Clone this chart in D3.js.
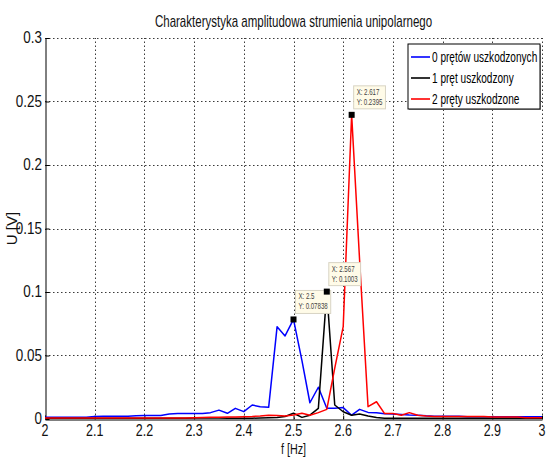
<!DOCTYPE html>
<html>
<head>
<meta charset="utf-8">
<script src="https://d3js.org/d3.v7.min.js"></script>
<style>
  body { margin: 0; background: #fff; }
  svg { display: block; font-family: "Liberation Sans", Arial, sans-serif; }
</style>
</head>
<body>
<div id="chart"></div>
<script>
// frequency grid [Hz]
const freqs = [2.000, 2.017, 2.033, 2.050, 2.067, 2.083, 2.100, 2.117, 2.133, 2.150,
  2.167, 2.183, 2.200, 2.217, 2.233, 2.250, 2.267, 2.283, 2.300, 2.317,
  2.333, 2.350, 2.367, 2.383, 2.400, 2.417, 2.433, 2.450, 2.467, 2.483,
  2.500, 2.517, 2.533, 2.550, 2.567, 2.583, 2.600, 2.617, 2.633, 2.650,
  2.667, 2.683, 2.700, 2.717, 2.733, 2.750, 2.767, 2.783, 2.800, 2.817,
  2.833, 2.850, 2.867, 2.883, 2.900, 2.917, 2.933, 2.950, 2.967, 2.983, 3.000];

// amplitude [V], 0 broken bars
const ampHealthy = [0.0013, 0.0013, 0.0013, 0.0013, 0.0013, 0.0013, 0.0019, 0.0021, 0.0021, 0.0021,
  0.0021, 0.0026, 0.0028, 0.0028, 0.0028, 0.0040, 0.0043, 0.0043, 0.0043, 0.0043,
  0.0050, 0.0070, 0.0045, 0.0084, 0.0058, 0.0110, 0.0097, 0.0092, 0.0727, 0.0654,
  0.07838, 0.0460, 0.0128, 0.0250, 0.0084, 0.0084, 0.0090, 0.0030, 0.0076, 0.0052,
  0.0050, 0.0042, 0.0040, 0.0036, 0.0032, 0.0030, 0.0025, 0.0022, 0.0022, 0.0022,
  0.0022, 0.0018, 0.0018, 0.0018, 0.0018, 0.0018, 0.0018, 0.0018, 0.0018, 0.0018, 0.0018];

// 1 broken bar
const ampOneBar = [0.0005, 0.0005, 0.0005, 0.0005, 0.0005, 0.0005, 0.0005, 0.0005, 0.0005, 0.0005,
  0.0005, 0.0005, 0.0005, 0.0005, 0.0005, 0.0005, 0.0005, 0.0005, 0.0008, 0.0008,
  0.0008, 0.0008, 0.0006, 0.0006, 0.0006, 0.0006, 0.0008, 0.0010, 0.0012, 0.0020,
  0.0045, 0.0013, 0.0030, 0.0084, 0.1003, 0.0110, 0.0057, 0.0030, 0.0040, 0.0024,
  0.0012, 0.0006, 0.0005, 0.0005, 0.0005, 0.0005, 0.0005, 0.0005, 0.0005, 0.0005,
  0.0005, 0.0005, 0.0005, 0.0005, 0.0005, 0.0005, 0.0005, 0.0005, 0.0005, 0.0005, 0.0005];

// 2 broken bars
const ampTwoBars = [0.0008, 0.0008, 0.0008, 0.0008, 0.0008, 0.0008, 0.0008, 0.0008, 0.0008, 0.0008,
  0.0008, 0.0008, 0.0008, 0.0008, 0.0008, 0.0008, 0.0008, 0.0008, 0.0010, 0.0012,
  0.0013, 0.0014, 0.0015, 0.0016, 0.0018, 0.0020, 0.0024, 0.0030, 0.0028, 0.0024,
  0.0032, 0.0045, 0.0030, 0.0050, 0.0076, 0.0400, 0.0727, 0.2395, 0.1250, 0.0097,
  0.0136, 0.0044, 0.0044, 0.0030, 0.0050, 0.0030, 0.0024, 0.0020, 0.0020, 0.0020,
  0.0020, 0.0020, 0.0020, 0.0020, 0.0015, 0.0015, 0.0015, 0.0015, 0.0010, 0.0010, 0.0010];

const seriesNames = ['0 prętów uszkodzonych', '1 pręt uszkodzony', '2 pręty uszkodzone'];
const seriesColors = ['#0000ff', '#000000', '#ff0000'];

// data cursors
const tipX = [2.5, 2.567, 2.617];
const tipY = [0.07838, 0.1003, 0.2395];
const tipLabels = [['X: 2.5', 'Y: 0.07838'], ['X: 2.567', 'Y: 0.1003'], ['X: 2.617', 'Y: 0.2395']];

const xTicks = [2, 2.1, 2.2, 2.3, 2.4, 2.5, 2.6, 2.7, 2.8, 2.9, 3];
const yTicks = [0, 0.05, 0.1, 0.15, 0.2, 0.25, 0.3];

const width = 548, height = 457;
const margin = { top: 38, right: 6, bottom: 38, left: 45 };
const SX = 0.72; // horizontal squeeze for text

const svg = d3.select('#chart').append('svg')
  .attr('width', width)
  .attr('height', height);

const x = d3.scaleLinear().domain([2, 3]).range([margin.left, width - margin.right]);
const y = d3.scaleLinear().domain([0, 0.3]).range([height - margin.bottom, margin.top]);

function squeezed(parent, px, py, txt, size, anchor, sx) {
  return parent.append('text')
    .attr('transform', `translate(${px},${py}) scale(${sx || SX},1)`)
    .attr('text-anchor', anchor || 'middle')
    .style('font-size', size + 'px')
    .text(txt);
}

// grid
const grid = svg.append('g').attr('stroke', '#3a3a3a').attr('stroke-width', 1)
  .attr('stroke-dasharray', '1.5,2.5').attr('fill', 'none');
grid.selectAll('.gx').data(xTicks.slice(1)).enter().append('line')
  .attr('x1', d => Math.round(x(d)) + 0.5).attr('x2', d => Math.round(x(d)) + 0.5)
  .attr('y1', y(0)).attr('y2', y(0.3));
grid.selectAll('.gy').data(yTicks.slice(1)).enter().append('line')
  .attr('x1', x(2)).attr('x2', x(3))
  .attr('y1', d => Math.round(y(d)) + 0.5).attr('y2', d => Math.round(y(d)) + 0.5);

// axes
const xAxis = d3.axisBottom(x).tickValues(xTicks).tickSizeInner(-4).tickSizeOuter(0)
  .tickFormat(() => '');
const yAxis = d3.axisLeft(y).tickValues(yTicks).tickSizeInner(-4).tickSizeOuter(0)
  .tickFormat(() => '');
svg.append('g').attr('transform', `translate(0,${Math.round(y(0)) + 0.5})`).call(xAxis)
  .call(g => g.select('.domain').attr('stroke', '#000'));
svg.append('g').attr('transform', `translate(${Math.round(x(2)) + 0.5},0)`).call(yAxis)
  .call(g => g.select('.domain').attr('stroke', '#000'));

const labels = svg.append('g').attr('fill', '#111');
xTicks.forEach(t => squeezed(labels, x(t), y(0) + 17, d3.format('')(t), 16, 'middle', 0.78));
yTicks.forEach(t => squeezed(labels, x(2) - 3, y(t) + 5, d3.format('')(t), 16, 'end', 0.84));

// lines
const line = d3.line().x(d => x(d[0])).y(d => y(d[1]));
[ampHealthy, ampOneBar, ampTwoBars].forEach((vals, i) => {
  svg.append('path')
    .datum(freqs.map((f, j) => [f, vals[j]]))
    .attr('fill', 'none')
    .attr('stroke', seriesColors[i])
    .attr('stroke-width', 1.5)
    .attr('stroke-linejoin', 'round')
    .attr('d', line);
});

// data cursors
tipX.forEach((tx, i) => {
  const px = x(tx), py = y(tipY[i]);
  svg.append('rect')
    .attr('x', px - 3).attr('y', py - 3).attr('width', 6).attr('height', 6)
    .attr('fill', '#000');
  const g = svg.append('g').attr('transform', `translate(${px + 2},${py - 29})`);
  const box = g.append('rect')
    .attr('height', 23)
    .attr('fill', '#fffbe8').attr('stroke', '#d8d4c4');
  const t1 = squeezed(g, 3, 9, tipLabels[i][0], 8.5, 'start').attr('fill', '#444');
  const t2 = squeezed(g, 3, 19, tipLabels[i][1], 8.5, 'start').attr('fill', '#444');
  const w = Math.max(t1.node().getComputedTextLength(), t2.node().getComputedTextLength()) * SX;
  box.attr('width', w + 6);
});

// legend
const lg = svg.append('g').attr('transform', 'translate(408,44)');
lg.append('rect').attr('x', 1).attr('y', 1).attr('width', 132).attr('height', 65).attr('fill', '#999');
lg.append('rect').attr('width', 132).attr('height', 65).attr('fill', '#fff').attr('stroke', '#000');
seriesNames.forEach((n, i) => {
  const ly = 13 + i * 21;
  lg.append('line').attr('x1', 3).attr('x2', 22).attr('y1', ly).attr('y2', ly)
    .attr('stroke', seriesColors[i]).attr('stroke-width', 1.6);
  squeezed(lg, 24, ly + 5, n, 14, 'start').attr('fill', '#000');
});

// title and axis labels
squeezed(svg, (x(2) + x(3)) / 2, 27, 'Charakterystyka amplitudowa strumienia unipolarnego', 16).attr('fill', '#111');
squeezed(svg, (x(2) + x(3)) / 2, 454, 'f [Hz]', 15).attr('fill', '#111');
svg.append('text')
  .attr('transform', `translate(17,${(y(0) + y(0.3)) / 2}) rotate(-90)`)
  .attr('text-anchor', 'middle')
  .style('font-size', '15px')
  .attr('fill', '#111')
  .text('U [V]');
</script>
</body>
</html>
